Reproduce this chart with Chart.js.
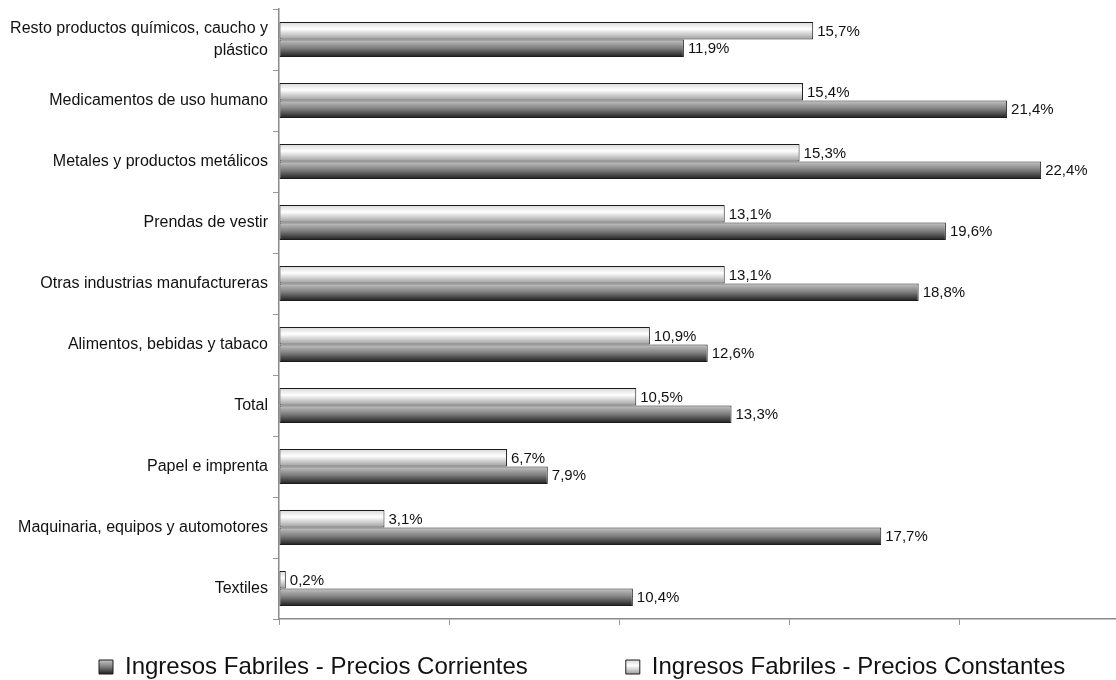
<!DOCTYPE html>
<html>
<head>
<meta charset="utf-8">
<script src="https://cdn.jsdelivr.net/npm/chart.js@4/dist/chart.umd.min.js"></script>
<style>
  html, body { margin: 0; padding: 0; background: #fff; }
  #wrap { width: 1116px; height: 680px; }
</style>
</head>
<body>
<div id="wrap"><canvas id="c" width="1116" height="680"></canvas></div>
<script>
const categories = [
  ['Resto productos químicos, caucho y', 'plástico'],
  'Medicamentos de uso humano',
  'Metales y productos metálicos',
  'Prendas de vestir',
  'Otras industrias manufactureras',
  'Alimentos, bebidas y tabaco',
  'Total',
  'Papel e imprenta',
  'Maquinaria, equipos y automotores',
  'Textiles'
];
const seriesNames = ['Ingresos Fabriles - Precios Constantes', 'Ingresos Fabriles - Precios Corrientes'];
const constantes = [15.7, 15.4, 15.3, 13.1, 13.1, 10.9, 10.5, 6.7, 3.1, 0.2];
const corrientes = [11.9, 21.4, 22.4, 19.6, 18.8, 12.6, 13.3, 7.9, 17.7, 10.4];
const xAxisMin = 0;
const xAxisMax = 24.6;
const xAxisStep = 5;

const FONT = 'Liberation Sans, Arial, Helvetica, sans-serif';
Chart.defaults.font.family = FONT;
Chart.defaults.color = '#111';

const LIGHT_STOPS = [[0, '#d6d6d6'], [0.4, '#ffffff'], [1, '#9c9c9c']];
const DARK_STOPS = [[0, '#c6c6c6'], [0.5, '#7c7c7c'], [1, '#1e1e1e']];
const CAT_PCT = 0.574;

function makeGrad(ctx2d, stops, top, bottom) {
  const g = ctx2d.createLinearGradient(0, top, 0, bottom);
  stops.forEach(s => g.addColorStop(s[0], s[1]));
  return g;
}

function barFill(stops, upper) {
  return (ctx) => {
    const chart = ctx.chart;
    const ys = chart.scales && chart.scales.y;
    if (!ys || ctx.dataIndex === undefined) return stops[1][1];
    const c = ys.getPixelForValue(ctx.dataIndex);
    const catW = ys.height / categories.length;
    const bh = catW * CAT_PCT / 2;
    if (!Number.isFinite(c) || !Number.isFinite(bh) || bh <= 0) return stops[1][1];
    const top = upper ? c - bh : c;
    return makeGrad(chart.ctx, stops, top, top + bh);
  };
}

// Legend placement constants
const LEGEND_BOX_X = 99;
const LEGEND_ITEM_TOP = 655;
const LEGEND_PAD = 98;

const legendPlacer = {
  id: 'legendPlacer',
  afterLayout(chart) {
    const lg = chart.legend;
    if (!lg) return;
    lg.left = LEGEND_BOX_X - LEGEND_PAD;
    lg.right = 1400;
    lg.width = lg.right - lg.left;
    lg.top = LEGEND_ITEM_TOP - LEGEND_PAD;
    lg.bottom = 700;
    lg.height = lg.bottom - lg.top;
  }
};

const valueLabels = {
  id: 'valueLabels',
  afterDatasetsDraw(chart) {
    const ctx = chart.ctx;
    ctx.save();
    ctx.font = '15px ' + FONT;
    ctx.fillStyle = '#111';
    ctx.textAlign = 'left';
    ctx.textBaseline = 'middle';
    chart.data.datasets.forEach((ds, di) => {
      const meta = chart.getDatasetMeta(di);
      meta.data.forEach((el, i) => {
        const v = ds.data[i];
        const txt = v.toFixed(1).replace('.', ',') + '%';
        ctx.fillText(txt, el.x + 4, el.y + 1);
      });
    });
    ctx.restore();
  }
};

const chart = new Chart(document.getElementById('c'), {
  type: 'bar',
  data: {
    labels: categories,
    datasets: [
      {
        label: seriesNames[0],
        data: constantes,
        backgroundColor: barFill(LIGHT_STOPS, true),
        borderColor: '#1c1c1c',
        borderWidth: 1,
        borderSkipped: false,
        categoryPercentage: CAT_PCT,
        barPercentage: 1
      },
      {
        label: seriesNames[1],
        data: corrientes,
        backgroundColor: barFill(DARK_STOPS, false),
        borderColor: '#1c1c1c',
        borderWidth: 1,
        borderSkipped: false,
        categoryPercentage: CAT_PCT,
        barPercentage: 1
      }
    ]
  },
  options: {
    indexAxis: 'y',
    responsive: false,
    devicePixelRatio: 1,
    animation: false,
    layout: { padding: { top: 9, left: -60, right: 0, bottom: 0 } },
    scales: {
      x: {
        min: xAxisMin,
        max: xAxisMax,
        border: { display: true, color: '#8a8a8a', width: 1.5 },
        grid: { drawOnChartArea: false, drawTicks: true, tickLength: 6, color: '#9a9a9a', lineWidth: 1 },
        ticks: { display: false, stepSize: xAxisStep, includeBounds: false }
      },
      y: {
        border: { display: true, color: '#8a8a8a', width: 1.5 },
        grid: { drawOnChartArea: false, drawTicks: true, tickLength: 6, color: '#9a9a9a', lineWidth: 1, offset: true },
        ticks: {
          padding: 5,
          color: '#111',
          font: { size: 16, family: FONT, lineHeight: 1.4 }
        },
        afterFit(scale) { scale.width = 339; scale.paddingTop = 0; scale.paddingBottom = 0; }
      }
    },
    plugins: {
      tooltip: { enabled: false },
      legend: {
        position: 'bottom',
        align: 'start',
        reverse: true,
        maxHeight: 55,
        labels: {
          boxWidth: 14,
          boxHeight: 14,
          padding: LEGEND_PAD,
          color: '#111',
          font: { size: 24, family: FONT },
          generateLabels(ch) {
            const items = Chart.defaults.plugins.legend.labels.generateLabels(ch);
            const bt = LEGEND_ITEM_TOP + 5;
            items.forEach(it => {
              it.fillStyle = makeGrad(ch.ctx, it.datasetIndex === 0 ? LIGHT_STOPS : DARK_STOPS, bt, bt + 14);
              it.strokeStyle = '#1c1c1c';
              it.lineWidth = 1;
            });
            return items;
          }
        }
      }
    }
  },
  plugins: [legendPlacer, valueLabels]
});
</script>
</body>
</html>
